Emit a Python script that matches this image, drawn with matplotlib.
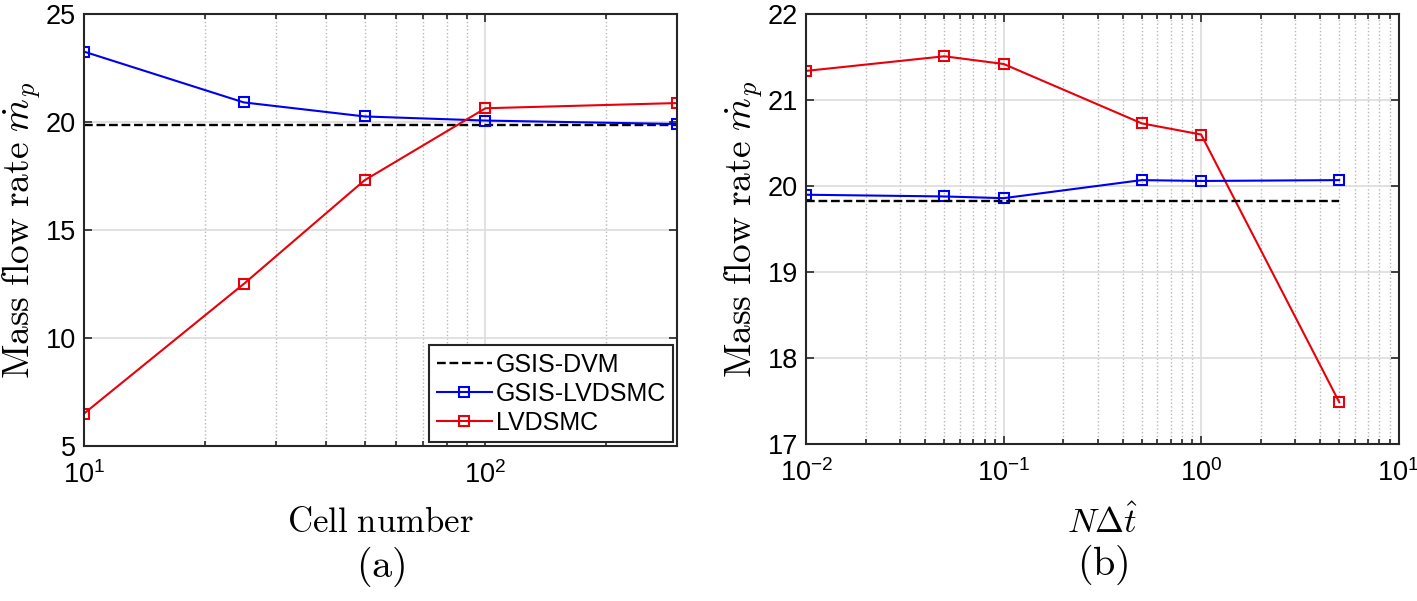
import numpy as np
import matplotlib.pyplot as plt
from matplotlib.ticker import LogLocator, NullFormatter

plt.rcParams['font.family'] = ['Liberation Sans', 'DejaVu Sans']
plt.rcParams['mathtext.fontset'] = 'cm'

# (a) mesh refinement
cells = [10, 25, 50, 100, 300]
gsis_lv_a = [23.25, 20.9, 20.25, 20.06, 19.9]
lv_a = [6.5, 12.5, 17.3, 20.63, 20.87]
dvm_a = [19.86, 19.86]
dvm_a_x = [10, 300]

# (b) time step
ndt = [0.01, 0.05, 0.1, 0.5, 1, 5]
lv_b = [21.34, 21.51, 21.42, 20.73, 20.6, 17.49]
gsis_lv_b = [19.9, 19.88, 19.86, 20.07, 20.06, 20.07]
dvm_b = [19.83, 19.83]
dvm_b_x = [0.01, 5]

spine_c = '#262626'
grid_c = '#dedede'

fig = plt.figure(figsize=(14.17, 6.01), dpi=100)
ax1 = fig.add_axes([0.0593, 0.258, 0.4185, 0.719])
ax2 = fig.add_axes([0.569, 0.261, 0.418, 0.7155])


def style(ax):
    ax.set_xscale('log')
    ax.xaxis.set_minor_locator(LogLocator(base=10, subs=np.arange(2, 10)))
    ax.xaxis.set_minor_formatter(NullFormatter())
    ax.grid(True, which='major', color=grid_c, linewidth=1.3, linestyle='-')
    ax.grid(True, which='minor', axis='x', color='#b8b8b8', linewidth=1.0, linestyle=':')
    ax.set_axisbelow(True)
    for s in ax.spines.values():
        s.set_color(spine_c)
        s.set_linewidth(1.5)
    ax.tick_params(which='both', direction='in', top=True, right=True,
                   colors=spine_c, labelcolor='black', labelsize=19.5, width=1.2)
    ax.tick_params(which='major', length=6)
    ax.tick_params(axis='x', which='major', pad=11)
    ax.tick_params(axis='y', which='major', pad=6)
    ax.tick_params(which='minor', length=3.5)


ms = 6.5
lw = 1.5

ax1.plot(dvm_a_x, dvm_a, '--', color='black', lw=1.7, label='GSIS-DVM')
ax1.plot(cells, gsis_lv_a, '-s', color='#0000f0', lw=lw, ms=ms, mfc='none', mew=1.5,
         label='GSIS-LVDSMC')
ax1.plot(cells, lv_a, '-s', color='#e8000b', lw=lw, ms=ms, mfc='none', mew=1.5,
         label='LVDSMC')
style(ax1)
ax1.set_xlim(10, 300)
ax1.set_ylim(5, 25)
ax1.set_yticks([5, 10, 15, 20, 25])
ax1.set_xlabel(r'$\mathrm{Cell\ number}$', fontsize=25, labelpad=12)
ax1.set_ylabel(r'$\mathrm{Mass\ flow\ rate}\ \dot{m}_p$', fontsize=27, labelpad=2)
leg = ax1.legend(loc='lower right', fontsize=18, frameon=True, fancybox=False,
                 edgecolor=spine_c, framealpha=1, handlelength=2.2,
                 handletextpad=0.15, borderpad=0.3, labelspacing=0.2,
                 borderaxespad=0.15)
leg.get_frame().set_linewidth(1.5)
ax1.text(0.5, -0.28, r'$\mathrm{(a)}$', transform=ax1.transAxes, ha='center',
         va='center', fontsize=29)

ax2.plot(ndt, lv_b, '-s', color='#e8000b', lw=lw, ms=ms, mfc='none', mew=1.5)
ax2.plot(ndt, gsis_lv_b, '-s', color='#0000f0', lw=lw, ms=ms, mfc='none', mew=1.5)
ax2.plot(dvm_b_x, dvm_b, '--', color='black', lw=1.7)
style(ax2)
ax2.set_xlim(0.01, 10)
ax2.set_ylim(17, 22)
ax2.set_yticks([17, 18, 19, 20, 21, 22])
ax2.set_xlabel(r'$N\Delta\hat{t}$', fontsize=25, labelpad=12)
ax2.set_ylabel(r'$\mathrm{Mass\ flow\ rate}\ \dot{m}_p$', fontsize=27, labelpad=2)
ax2.text(0.5, -0.28, r'$\mathrm{(b)}$', transform=ax2.transAxes, ha='center',
         va='center', fontsize=29)

fig.savefig('out.png', dpi=100)
